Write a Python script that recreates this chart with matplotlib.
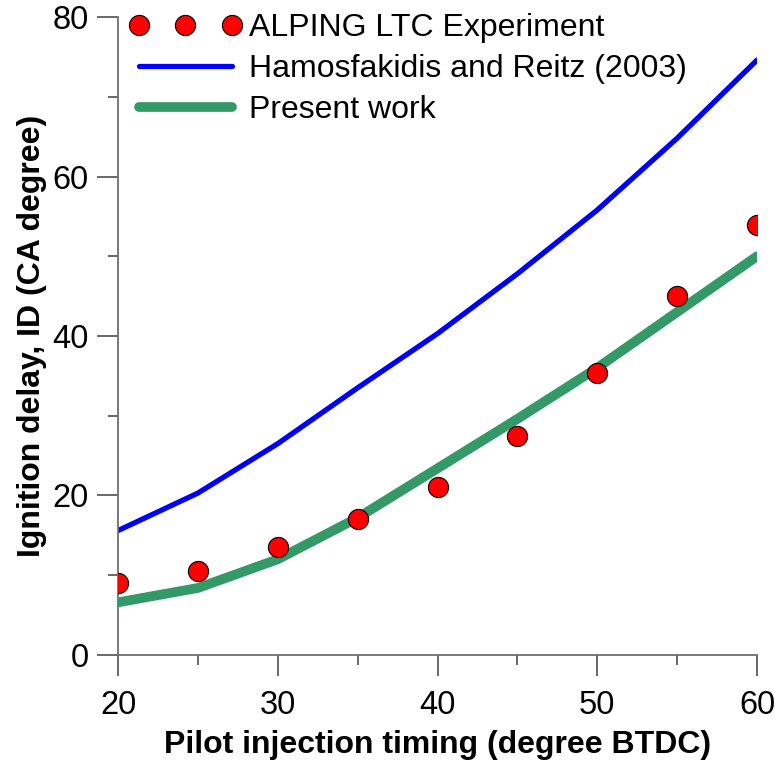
import numpy as np
import matplotlib
matplotlib.use('Agg')
import matplotlib.pyplot as plt
from matplotlib.ticker import MultipleLocator

plt.rcParams['font.family'] = ['Liberation Sans', 'DejaVu Sans']

# Pilot injection timing (degree BTDC)
timing = [20, 25, 30, 35, 40, 45, 50, 55, 60]

# Ignition delay (CA degree)
id_experiment = [9.0, 10.5, 13.6, 17.0, 21.0, 27.4, 35.4, 45.0, 53.9]
id_hamosfakidis = [15.6, 20.3, 26.5, 33.5, 40.3, 47.8, 55.8, 64.8, 74.6]
id_present = [6.6, 8.4, 12.0, 17.2, 23.4, 29.6, 36.0, 43.0, 50.0]

fig = plt.figure(figsize=(7.75, 7.63), dpi=100)
ax = fig.add_axes([0.1523, 0.1416, 0.8245, 0.8361])

ax.plot(timing, id_experiment, 'o', color='red', markeredgecolor='black',
        markeredgewidth=0.8, markersize=14.5, label='ALPING LTC Experiment', zorder=4)
ax.plot(timing, id_hamosfakidis, color='#0000FF', lw=3.8, solid_capstyle='round',
        label='Hamosfakidis and Reitz (2003)', zorder=2)
ax.plot(timing, id_present, color='#339966', lw=7, solid_capstyle='round',
        label='Present work', zorder=3)

ax.set_xlim(20, 60)
ax.set_ylim(0, 80)
ax.xaxis.set_major_locator(MultipleLocator(10))
ax.xaxis.set_minor_locator(MultipleLocator(5))
ax.yaxis.set_major_locator(MultipleLocator(20))
ax.yaxis.set_minor_locator(MultipleLocator(10))

for side in ['top', 'right']:
    ax.spines[side].set_visible(False)
for side in ['left', 'bottom']:
    ax.spines[side].set_color('#707070')
    ax.spines[side].set_linewidth(1.3)

ax.tick_params(which='major', direction='out', length=15, width=1.1,
               color='#404040', labelsize=23.5, pad=6)
ax.tick_params(which='minor', direction='out', length=7.5, width=1.1,
               color='#404040')
ax.tick_params(axis='x', which='major', pad=10)

ax.set_xlabel('Pilot injection timing (degree BTDC)', fontsize=23,
              fontweight='bold', labelpad=7)
ax.set_ylabel('Ignition delay, ID (CA degree)', fontsize=23,
              fontweight='bold', labelpad=4)

ax.legend(loc='upper left', bbox_to_anchor=(0.018, 1.006), frameon=False,
          fontsize=23, numpoints=3, handlelength=3.5, handletextpad=0.25,
          labelspacing=0.34, borderpad=0, borderaxespad=0)

fig.savefig('out.png', dpi=100)
